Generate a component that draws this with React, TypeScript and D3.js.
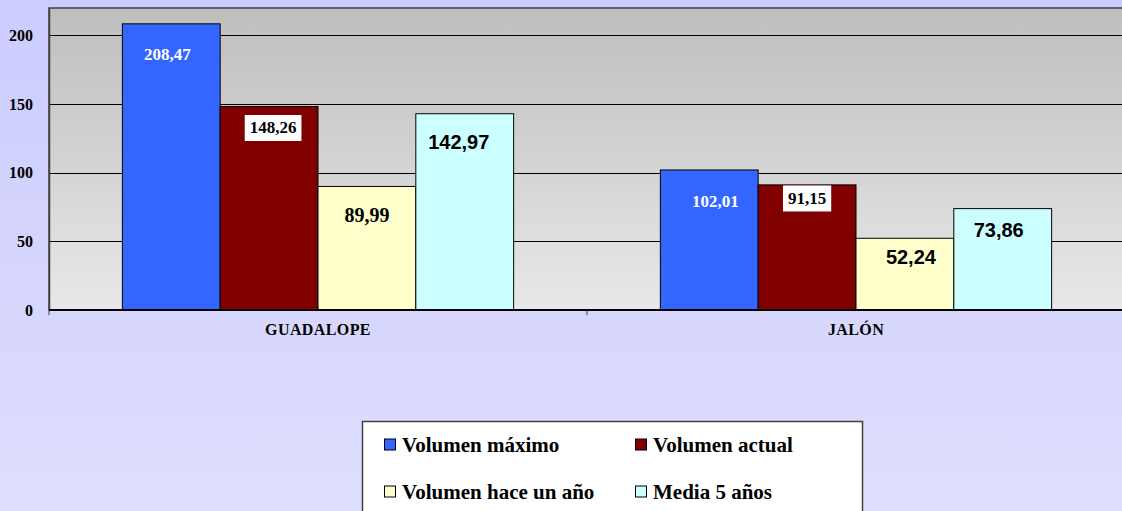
import React, { useEffect, useRef } from 'react';
import * as d3 from 'd3';

const categories = ['GUADALOPE', 'JALÓN'];
const seriesNames = ['Volumen máximo', 'Volumen actual', 'Volumen hace un año', 'Media 5 años'];
const seriesValues = [
  [208.47, 102.01],
  [148.26, 91.15],
  [89.99, 52.24],
  [142.97, 73.86],
];
const yTicks = [0, 50, 100, 150, 200];

const colors = ['#3366ff', '#800000', '#ffffcc', '#ccffff'];
// label look for each series
const labelStyle = [
  { fill: '#ffffff', size: 17, box: false },
  { fill: '#000000', size: 17, box: true },
  { fill: '#000000', size: 20, box: false },
  { fill: '#000000', size: 20, box: false },
];
// label font per series / category, as in the original sheet
const labelFamily = [
  ['Liberation Serif', 'Liberation Serif'],
  ['Liberation Serif', 'Liberation Serif'],
  ['Liberation Serif', 'Liberation Sans'],
  ['Liberation Sans', 'Liberation Sans'],
];
// hand placed label nudges (dx, dy from bar top centre)
const labelNudge = [
  [[-4, 31], [6, 32]],
  [[4, 21.5], [0, 13.6]],
  [[0, 28.5], [6, 19]],
  [[-6, 28], [-4, 21.5]],
];

const W = 1122;
const H = 511;

const App = () => {
  const svgRef = useRef<SVGSVGElement>(null);

  useEffect(() => {
    const svg = d3.select(svgRef.current);
    svg.selectAll('*').remove();

    const plot = { left: 49, right: 1125, top: 8, bottom: 310 };

    const defs = svg.append('defs');
    const pageGrad = defs.append('linearGradient').attr('id', 'pageBg')
      .attr('x1', 0).attr('y1', 0).attr('x2', 0).attr('y2', 1);
    pageGrad.append('stop').attr('offset', '0%').attr('stop-color', '#ccccff');
    pageGrad.append('stop').attr('offset', '100%').attr('stop-color', '#dedefd');
    const plotGrad = defs.append('linearGradient').attr('id', 'plotBg')
      .attr('x1', 0).attr('y1', 0).attr('x2', 0).attr('y2', 1);
    plotGrad.append('stop').attr('offset', '0%').attr('stop-color', '#bebebe');
    plotGrad.append('stop').attr('offset', '100%').attr('stop-color', '#e8e8e8');

    svg.append('rect').attr('width', W).attr('height', H).attr('fill', 'url(#pageBg)');

    const y = d3.scaleLinear().domain([0, 220]).range([plot.bottom, plot.top]);
    const x0 = d3.scaleBand().domain(categories).range([plot.left, plot.right]).paddingInner(0).paddingOuter(0);
    const x1 = d3.scaleBand().domain(seriesNames)
      .range([0, x0.bandwidth()]).paddingOuter(0.75).paddingInner(0);

    svg.append('rect')
      .attr('x', plot.left).attr('y', plot.top)
      .attr('width', plot.right - plot.left).attr('height', plot.bottom - plot.top)
      .attr('fill', 'url(#plotBg)')
      .attr('stroke', '#404040').attr('stroke-width', 1.5);

    // gridlines
    svg.append('g').selectAll('line')
      .data(yTicks.filter(d => d > 0))
      .enter().append('line')
      .attr('x1', plot.left).attr('x2', plot.right)
      .attr('y1', d => Math.round(y(d)) + 0.5).attr('y2', d => Math.round(y(d)) + 0.5)
      .attr('stroke', '#000').attr('stroke-width', 1.2);

    // y axis
    const yAxis = svg.append('g')
      .attr('transform', `translate(${plot.left},0)`)
      .call(d3.axisLeft(y).tickValues(yTicks).tickSize(0).tickPadding(16).tickFormat(d3.format('d')));
    yAxis.select('.domain').attr('stroke', '#404040').attr('stroke-width', 1.5);
    yAxis.selectAll('text')
      .attr('font-family', 'Liberation Serif').attr('font-weight', 'bold')
      .attr('font-size', 16).attr('fill', '#000');

    // bars
    const groups = svg.append('g').selectAll('g')
      .data(categories)
      .enter().append('g')
      .attr('transform', d => `translate(${x0(d)},0)`);

    groups.selectAll('rect')
      .data((c, ci) => seriesNames.map((s, si) => ({ s, si, v: seriesValues[si][ci] })))
      .enter().append('rect')
      .attr('x', d => x1(d.s)!)
      .attr('y', d => y(d.v))
      .attr('width', x1.bandwidth())
      .attr('height', d => plot.bottom - y(d.v))
      .attr('fill', d => colors[d.si])
      .attr('stroke', '#000').attr('stroke-width', 1);

    // labels
    const fmt = (v: number) => v.toFixed(2).replace('.', ',');
    groups.each(function (c, ci) {
      const g = d3.select(this);
      seriesNames.forEach((s, si) => {
        const v = seriesValues[si][ci];
        const st = labelStyle[si];
        const [dx, dy] = labelNudge[si][ci];
        const cx = x1(s)! + x1.bandwidth() / 2 + dx;
        const cy = y(v) + dy;
        const box = st.box ? g.append('rect').attr('fill', '#fff') : null;
        const t = g.append('text')
          .attr('x', cx).attr('y', cy)
          .attr('text-anchor', 'middle').attr('dominant-baseline', 'central')
          .attr('font-family', labelFamily[si][ci]).attr('font-weight', 'bold')
          .attr('font-size', st.size).attr('fill', st.fill)
          .text(fmt(v));
        if (box) {
          const w = (t.node() as SVGTextElement).getComputedTextLength() + 10;
          box.attr('x', cx - w / 2).attr('y', cy - 13).attr('width', w).attr('height', 26);
        }
      });
    });

    // x axis
    svg.append('line')
      .attr('x1', plot.left).attr('x2', plot.right)
      .attr('y1', plot.bottom).attr('y2', plot.bottom)
      .attr('stroke', '#000').attr('stroke-width', 2);
    svg.append('g').selectAll('line')
      .data([plot.left, x0(categories[1])!])
      .enter().append('line')
      .attr('x1', d => d).attr('x2', d => d)
      .attr('y1', plot.bottom).attr('y2', plot.bottom + 5)
      .attr('stroke', '#404040').attr('stroke-width', 1);
    svg.append('g').selectAll('text')
      .data(categories)
      .enter().append('text')
      .attr('x', d => x0(d)! + x0.bandwidth() / 2)
      .attr('y', 335)
      .attr('text-anchor', 'middle')
      .attr('font-family', 'Liberation Serif').attr('font-weight', 'bold')
      .attr('font-size', 16).attr('letter-spacing', 0.4)
      .text(d => d);

    // legend
    const legend = svg.append('g');
    legend.append('rect')
      .attr('x', 362.5).attr('y', 421.5).attr('width', 500).attr('height', 120)
      .attr('fill', '#fff').attr('stroke', '#404040').attr('stroke-width', 1.5);
    const lx = d3.scaleOrdinal<number>().domain(['0', '1']).range([384, 635]);
    const ly = d3.scaleOrdinal<number>().domain(['0', '1']).range([444.5, 491.5]);
    seriesNames.forEach((s, i) => {
      const col = String(i % 2);
      const row = String(Math.floor(i / 2));
      const item = legend.append('g')
        .attr('transform', `translate(${lx(col)},${ly(row)})`);
      item.append('rect')
        .attr('x', 0.5).attr('y', -5.5).attr('width', 11).attr('height', 11)
        .attr('fill', colors[i]).attr('stroke', '#000').attr('stroke-width', 1);
      item.append('text')
        .attr('x', 18).attr('y', 7)
        .attr('font-family', 'Liberation Serif').attr('font-weight', 'bold')
        .attr('font-size', 21).attr('fill', '#000')
        .text(s);
    });
  }, []);

  return (
    <svg ref={svgRef} width={W} height={H}
      style={{ position: 'absolute', left: 0, top: 0, display: 'block' }} />
  );
};

export default App;
